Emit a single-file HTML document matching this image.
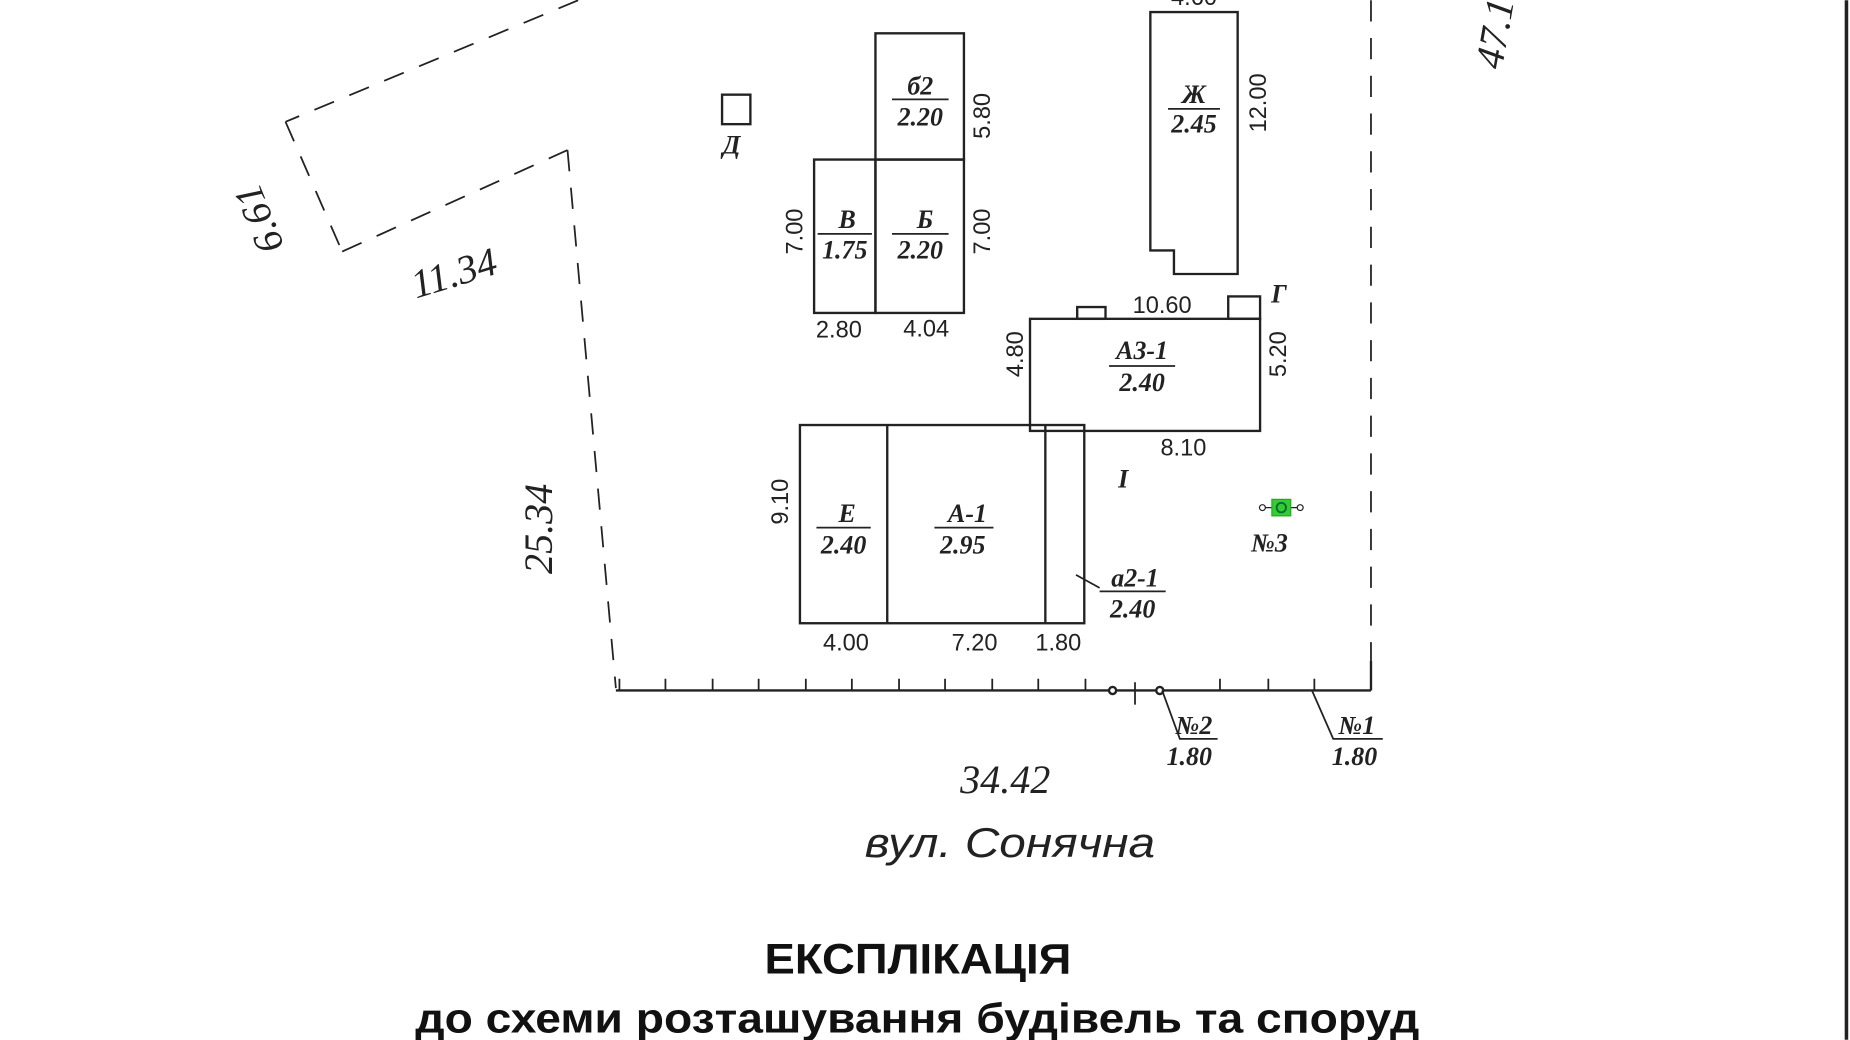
<!DOCTYPE html>
<html><head><meta charset="utf-8"><style>
html,body{margin:0;padding:0;background:#fff;width:1850px;height:1040px;overflow:hidden}
svg{display:block}
.l{font-family:"Liberation Serif",serif;font-style:italic;font-weight:bold;font-size:22px;fill:#222;text-anchor:middle}
.d{font-family:"Liberation Sans",sans-serif;font-size:20px;fill:#222;text-anchor:middle}
.b{font-family:"Liberation Serif",serif;font-style:italic;font-size:34px;fill:#222;text-anchor:middle}
</style></head><body>
<svg width="1850" height="1040" viewBox="0 0 1568 881" xmlns="http://www.w3.org/2000/svg">
<g fill="none" stroke="#222" stroke-width="2">
<line x1="1565" y1="0" x2="1565" y2="881" stroke-width="3"/>
<g stroke-dasharray="18,14" stroke-width="1.5">
<line x1="490" y1="0" x2="242" y2="103"/>
<line x1="242" y1="103" x2="290" y2="213"/>
<line x1="290" y1="213" x2="481" y2="127"/>
<line x1="481" y1="127" x2="522" y2="583"/>
<line x1="1162" y1="0" x2="1162" y2="585"/>
</g>
<line x1="522" y1="585" x2="1162" y2="585"/>
<line x1="1162" y1="585" x2="1162" y2="560"/>
<path d="M525 585v-10M564 585v-10M604 585v-10M643 585v-10M683 585v-10M722 585v-10M762 585v-10M801 585v-10M841 585v-10M880 585v-10M920 585v-10M1034 585v-10M1075 585v-10M1114 585v-10" stroke-width="1.5"/>
<line x1="962" y1="578" x2="962" y2="597" stroke-width="1.5"/>
<circle cx="943" cy="585" r="3" fill="#fff"/><circle cx="983" cy="585" r="3" fill="#fff"/>
<polyline points="985,585 1000,626 1032,626" stroke-width="1.5"/>
<polyline points="1112,585 1130,626 1172,626" stroke-width="1.5"/>
<rect x="742" y="28" width="75" height="107"/>
<rect x="690" y="135" width="52" height="130"/>
<rect x="742" y="135" width="75" height="130"/>
<rect x="612" y="80" width="24" height="25"/>
<polygon points="975,10 1049,10 1049,232 995,232 995,212 975,212"/>
<rect x="873" y="270" width="195" height="95"/>
<rect x="913" y="260" width="24" height="10"/>
<rect x="1041" y="251" width="27" height="19"/>
<rect x="678" y="360" width="241" height="168"/>
<line x1="752" y1="360" x2="752" y2="528"/>
<line x1="886" y1="360" x2="886" y2="528"/>
<line x1="912" y1="487" x2="932" y2="498" stroke-width="1.5"/>
<g stroke-width="1.5">
<line x1="693" y1="198" x2="739" y2="198"/><line x1="756" y1="198" x2="804" y2="198"/>
<line x1="756" y1="84" x2="804" y2="84"/><line x1="990" y1="92" x2="1034" y2="92"/>
<line x1="940" y1="310" x2="996" y2="310"/><line x1="692" y1="447" x2="738" y2="447"/>
<line x1="792" y1="447" x2="842" y2="447"/><line x1="932" y1="501" x2="988" y2="501"/>
</g>
<line x1="1068" y1="430" x2="1104" y2="430" stroke-width="1"/>
<circle cx="1070" cy="430" r="2.5" fill="#fff" stroke-width="1"/><circle cx="1102" cy="430" r="2.5" fill="#fff" stroke-width="1"/>
<rect x="1078" y="423" width="16" height="14" fill="#3c3" stroke="#2a2" stroke-width="1"/>
<circle cx="1086" cy="430" r="4" stroke="#063" stroke-width="1.5"/>
</g>
<text class="b" transform="translate(230,181) rotate(-112)">6.61</text>
<text class="b" transform="translate(388,242) rotate(-17)">11.34</text>
<text class="b" transform="translate(468,448) rotate(-90)">25.34</text>
<text class="b" transform="translate(1278,30) rotate(-80)">47.1</text>
<text class="b" x="852" y="672">34.42</text>
<text x="733" y="726" textLength="246" lengthAdjust="spacingAndGlyphs" style="font-family:'Liberation Sans',sans-serif;font-style:italic;font-size:35px;fill:#222">вул. Сонячна</text>
<text x="648" y="825" textLength="260" lengthAdjust="spacingAndGlyphs" style="font-family:'Liberation Sans',sans-serif;font-weight:bold;font-size:36px;fill:#111">ЕКСПЛІКАЦІЯ</text>
<text x="352" y="875" textLength="851" lengthAdjust="spacingAndGlyphs" style="font-family:'Liberation Sans',sans-serif;font-weight:bold;font-size:35px;fill:#111">до схеми розташування будівель та споруд</text>
<text class="l" x="780" y="80">б2</text><text class="l" x="780" y="106">2.20</text>
<text class="l" x="718" y="193">В</text><text class="l" x="716" y="219">1.75</text>
<text class="l" x="784" y="193">Б</text><text class="l" x="780" y="219">2.20</text>
<text class="l" x="1012" y="87">Ж</text><text class="l" x="1012" y="112">2.45</text>
<text class="l" x="968" y="304">А3-1</text><text class="l" x="968" y="331">2.40</text>
<text class="l" x="718" y="442">Е</text><text class="l" x="715" y="469">2.40</text>
<text class="l" x="820" y="442">А-1</text><text class="l" x="816" y="469">2.95</text>
<text class="l" x="962" y="497">а2-1</text><text class="l" x="960" y="523">2.40</text>
<text class="l" x="620" y="130">Д</text><text class="l" x="1084" y="256">Г</text>
<text class="l" x="952" y="413">І</text>
<text class="l" x="1076" y="467">№3</text>
<text class="l" x="1012" y="622">№2</text><text class="l" x="1008" y="648">1.80</text>
<text class="l" x="1150" y="622">№1</text><text class="l" x="1148" y="648">1.80</text>
<text class="d" transform="translate(839,98) rotate(-90)">5.80</text>
<text class="d" transform="translate(680,196) rotate(-90)">7.00</text>
<text class="d" transform="translate(839,196) rotate(-90)">7.00</text>
<text class="d" transform="translate(1073,87) rotate(-90)">12.00</text>
<text class="d" transform="translate(867,300) rotate(-90)">4.80</text>
<text class="d" transform="translate(1090,300) rotate(-90)">5.20</text>
<text class="d" transform="translate(668,425) rotate(-90)">9.10</text>
<text class="d" x="711" y="286">2.80</text><text class="d" x="785" y="285">4.04</text>
<text class="d" x="985" y="265">10.60</text><text class="d" x="1003" y="386">8.10</text>
<text class="d" x="717" y="551">4.00</text><text class="d" x="826" y="551">7.20</text><text class="d" x="897" y="551">1.80</text>
<text class="d" x="1012" y="4">4.60</text>
</svg>
</body></html>
